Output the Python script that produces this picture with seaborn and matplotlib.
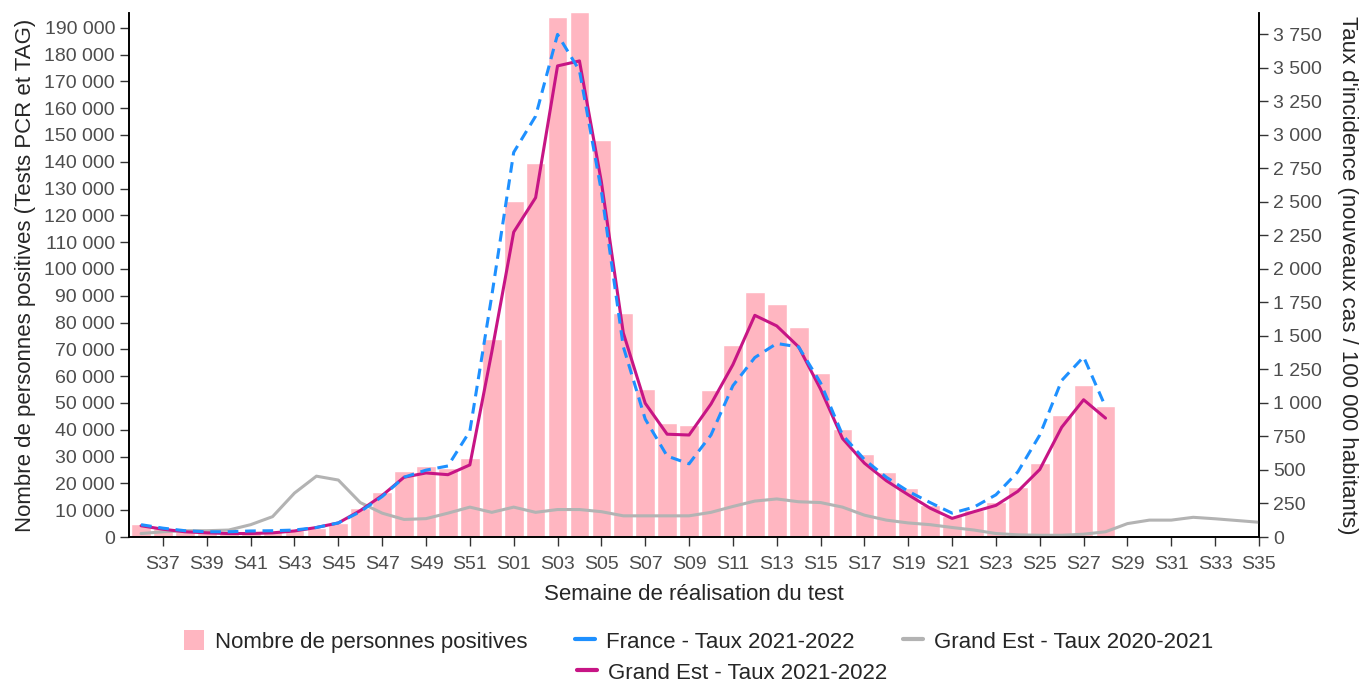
import numpy as np
import pandas as pd
import matplotlib
matplotlib.use('Agg')
import matplotlib.pyplot as plt
from matplotlib.ticker import FuncFormatter, MultipleLocator
from matplotlib.lines import Line2D
from matplotlib.patches import Patch
import seaborn as sns

# semaines S36 (2021) -> S35 (2022)
weeks = ['S36', 'S37', 'S38', 'S39', 'S40', 'S41', 'S42', 'S43', 'S44', 'S45', 'S46',
         'S47', 'S48', 'S49', 'S50', 'S51', 'S52',
         'S01', 'S02', 'S03', 'S04', 'S05', 'S06', 'S07', 'S08', 'S09', 'S10',
         'S11', 'S12', 'S13', 'S14', 'S15', 'S16', 'S17', 'S18', 'S19', 'S20',
         'S21', 'S22', 'S23', 'S24', 'S25', 'S26', 'S27', 'S28', 'S29', 'S30',
         'S31', 'S32', 'S33', 'S34', 'S35']

# nombre de personnes positives (S36 -> S28)
positives = [4700, 3400, 2100, 1700, 1700, 1800, 2100, 2500, 3400, 5300, 10900,
             16900, 24500, 26400, 25800, 29500, 73700,
             125300, 139700, 193900, 196000, 148000, 83700, 55400, 42400, 41800, 55000,
             71500, 91400, 87100, 78400, 61200, 40400, 30900, 24200, 18400, 12000,
             7900, 10200, 12900, 18600, 27600, 45500, 56700, 48900]

# taux d'incidence pour 100 000 habitants
taux_ge_2122 = [84, 58, 39, 31, 26, 26, 31, 45, 71, 105, 197,
                310, 446, 478, 465, 538, 1380,
                2275, 2532, 3515, 3552, 2650, 1523, 998, 767, 761, 992,
                1286, 1654, 1575, 1418, 1103, 735, 551, 420, 315, 215,
                139, 189, 236, 341, 504, 819, 1024, 887]

taux_fr_2122 = [92, 66, 47, 39, 39, 45, 47, 52, 71, 105, 189,
                302, 446, 499, 530, 790, 1800,
                2870, 3140, 3750, 3480, 2580, 1420, 880, 604, 546, 761,
                1129, 1339, 1444, 1418, 1150, 761, 578, 446, 341, 257,
                178, 223, 315, 486, 761, 1168, 1344, 971]

taux_ge_2021 = [26, 39, 47, 47, 52, 92, 152, 328, 454, 425, 257,
                178, 131, 137, 178, 223, 184,
                223, 184, 205, 205, 189, 158, 158, 158, 158, 184,
                228, 268, 284, 263, 257, 223, 163, 126, 105, 92,
                71, 52, 26, 16, 13, 13, 21, 39, 100, 126,
                126, 147, 136, 123, 110]

c_bar = '#FFB6C1'
c_fr = '#1E90FF'
c_ge = '#C71585'
c_old = '#B3B3B3'

sns.set_style('white')
plt.rcParams['font.family'] = ['Liberation Sans', 'DejaVu Sans']

def fmt_space(v, pos):
    return f'{int(round(v)):,}'.replace(',', ' ')

fig = plt.figure(figsize=(13.68, 6.82), dpi=100)
ax = fig.add_axes([0.0943, 0.2126, 0.8260, 0.7684])

df_bar = pd.DataFrame({'semaine': weeks[:len(positives)], 'positifs': positives})
sns.barplot(data=df_bar, x='semaine', y='positifs', order=weeks, color=c_bar,
            saturation=1, width=0.9, ax=ax)

ax2 = ax.twinx()
pos = np.arange(len(weeks))
sns.lineplot(x=pos, y=taux_ge_2021, color=c_old, lw=2.2, ax=ax2)
sns.lineplot(x=pos[:len(taux_ge_2122)], y=taux_ge_2122, color=c_ge, lw=2.2, ax=ax2)
sns.lineplot(x=pos[:len(taux_fr_2122)], y=taux_fr_2122, color=c_fr, lw=2.2,
             linestyle=(0, (3.5, 2.2)), ax=ax2)

ax.set_xlim(-0.55, len(weeks) - 1)
ax.set_ylim(0, 195500)
ax2.set_ylim(0, 3910)

ax.yaxis.set_major_locator(MultipleLocator(10000))
ax.yaxis.set_major_formatter(FuncFormatter(fmt_space))
ax2.yaxis.set_major_locator(MultipleLocator(250))
ax2.yaxis.set_major_formatter(FuncFormatter(fmt_space))

ax.set_xticks(pos[1::2])
ax.set_xticklabels(weeks[1::2])

ax.set_xlabel('Semaine de réalisation du test', fontsize=16, labelpad=7.5)
ax.set_ylabel('Nombre de personnes positives (Tests PCR et TAG)', fontsize=16, labelpad=6)
ax2.set_ylabel("Taux d'incidence (nouveaux cas / 100 000 habitants)", fontsize=16,
               rotation=-90, labelpad=26)

for a in (ax, ax2):
    a.tick_params(axis='both', labelsize=14, labelcolor='#4D4D4D', color='#333333',
                  length=6.5, width=1, direction='out', pad=3.5)
    a.spines['top'].set_visible(False)
    for s in ('left', 'right', 'bottom'):
        a.spines[s].set_color('black')
        a.spines[s].set_linewidth(1.2)
ax.tick_params(left=True, bottom=True)
ax.tick_params(axis='x', pad=7.5)
ax2.tick_params(right=True)

# legende : ligne 1 (3 elements) puis ligne 2 sous "France"
leg_kw = dict(frameon=False, fontsize=16, handlelength=0.9, handleheight=1.0,
              handletextpad=0.5, borderaxespad=0)
h1 = [Patch(facecolor=c_bar, edgecolor='none'),
      Line2D([], [], color=c_fr, lw=3),
      Line2D([], [], color=c_old, lw=3)]
l1 = ['Nombre de personnes positives', 'France - Taux 2021-2022',
      'Grand Est - Taux 2020-2021']
leg1 = fig.legend(h1, l1, ncol=3, loc='upper center', bbox_to_anchor=(0.5106, 0.0886),
                  columnspacing=2.15, **leg_kw)
leg2 = fig.legend([Line2D([], [], color=c_ge, lw=3)], ['Grand Est - Taux 2021-2022'],
                  loc='upper left', bbox_to_anchor=(0.4152, 0.043), **leg_kw)

fig.savefig('out.png', dpi=100)
